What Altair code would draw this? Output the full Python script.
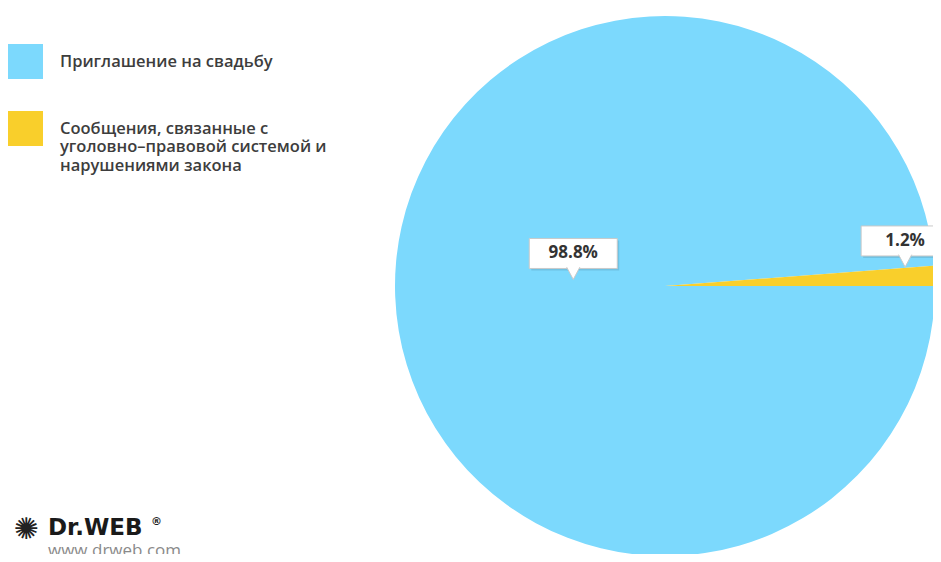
import math
import altair as alt
import pandas as pd

# ---- data ----
categories = [
    "Приглашение на свадьбу",
    "Сообщения, связанные с\nуголовно–правовой системой и\nнарушениями закона",
]
values = [98.8, 1.2]
order = [0, 1]
colors = ["#7cd9fd", "#f9cf2b"]

df = pd.DataFrame({"category": categories, "value": values, "order": order})

# ---- layout ----
W, H = 925, 546          # plot area
CX, CY = 657, 278        # pie centre inside the plot area (pixels)
R = 270                  # pie radius (pixels)

xscale = alt.Scale(domain=[-CX, W - CX], nice=False, zero=False)
yscale = alt.Scale(domain=[-(H - CY), CY], nice=False, zero=False)
START = math.pi / 2

base = (
    alt.Chart(df)
    .transform_joinaggregate(total="sum(value)")
    .transform_window(cum="sum(value)", sort=[alt.SortField("order")], frame=[None, 0])
    .transform_calculate(
        mid=f"{START} + 2*PI*(datum.cum - datum.value/2)/datum.total",
        share="datum.value/datum.total",
    )
    .transform_calculate(lr=f"(datum.share > 0.5 ? 0.34 : 0.89) * {R}")
    .transform_calculate(
        tipx="datum.lr*sin(datum.mid)",
        tipy="datum.lr*cos(datum.mid) + 10",
        label="format(datum.value, '.1f') + '%'",
    )
    .transform_calculate(
        bx1="datum.tipx - 44",
        bx2="datum.tipx + 44",
        by1="datum.tipy + 11",
        by2="datum.tipy + 41",
        ty="datum.tipy + 26",
    )
)

arc = alt.Chart(df).mark_arc(radius=R).encode(
    theta=alt.Theta(
        "value:Q", stack=True,
        scale=alt.Scale(range=[START, START + 2 * math.pi]),
    ),
    order=alt.Order("order:Q"),
    color=alt.Color(
        "category:N",
        scale=alt.Scale(domain=categories, range=colors),
        legend=alt.Legend(
            title=None,
            orient="none",
            legendX=0,
            legendY=36,
            padding=0,
            symbolType="square",
            symbolSize=1225,
            symbolStrokeWidth=0,
            symbolOpacity=1,
            labelFont="Open Sans",
            labelFontSize=16.5,
            labelFontWeight=600,
            labelColor="#3d3d3d",
            labelLimit=500,
            labelOffset=17,
            rowPadding=32,
            labelExpr="split(datum.label, '\\n')",
        ),
    ),
    x=alt.X(datum=0, scale=xscale, axis=None),
    y=alt.Y(datum=0, scale=yscale, axis=None),
)

shadow = base.mark_rect(color="#000000", opacity=0.10).encode(
    x=alt.X("sx1:Q", scale=xscale, axis=None),
    x2="sx2:Q",
    y=alt.Y("sy1:Q", scale=yscale, axis=None),
    y2="sy2:Q",
).transform_calculate(
    sx1="datum.bx1 + 2", sx2="datum.bx2 + 2", sy1="datum.by1 - 2", sy2="datum.by2 - 2"
)

box = base.mark_rect(fill="white", stroke="#c9c9c9", strokeWidth=1, opacity=1).encode(
    x=alt.X("bx1:Q", scale=xscale, axis=None),
    x2="bx2:Q",
    y=alt.Y("by1:Q", scale=yscale, axis=None),
    y2="by2:Q",
)

pointer = base.mark_point(
    shape="M-0.6,-1.12L0,0L0.6,-1.12",
    size=484,
    filled=True,
    fill="white",
    stroke="#c9c9c9",
    strokeWidth=1,
    opacity=1,
).encode(
    x=alt.X("tipx:Q", scale=xscale, axis=None),
    y=alt.Y("tipy:Q", scale=yscale, axis=None),
)

labels = base.mark_text(
    font="Open Sans", fontSize=17, fontWeight="bold", color="#333333"
).encode(
    x=alt.X("tipx:Q", scale=xscale, axis=None),
    y=alt.Y("ty:Q", scale=yscale, axis=None),
    text="label:N",
)

logo_df = pd.DataFrame({"t": [0]})
logo_icon = alt.Chart(logo_df).mark_text(
    text="✺", font="DejaVu Sans", fontSize=30, color="#222222", align="center", baseline="middle"
).encode(x=alt.value(18), y=alt.value(522))
logo_name = alt.Chart(logo_df).mark_text(
    text="Dr.WEB", font="DejaVu Sans", fontSize=23, fontWeight="bold", color="#1a1a1a",
    align="left", baseline="alphabetic",
).encode(x=alt.value(40), y=alt.value(527))
logo_reg = alt.Chart(logo_df).mark_text(
    text="®", font="DejaVu Sans", fontSize=11, fontWeight="bold", color="#1a1a1a",
    align="left", baseline="alphabetic",
).encode(x=alt.value(143), y=alt.value(517))
logo_url = alt.Chart(logo_df).mark_text(
    text="www.drweb.com", font="Open Sans", fontSize=17, color="#8a8a8a",
    align="left", baseline="alphabetic",
).encode(x=alt.value(40), y=alt.value(548))

chart = (
    alt.layer(arc, shadow, box, pointer, labels, logo_icon, logo_name, logo_reg, logo_url)
    .properties(width=W, height=H, padding=0, autosize=alt.AutoSizeParams(type="none"))
    .configure_view(strokeWidth=0, stroke="transparent")
)

chart.save("out.html", embed_options={"renderer": "svg", "actions": False})
